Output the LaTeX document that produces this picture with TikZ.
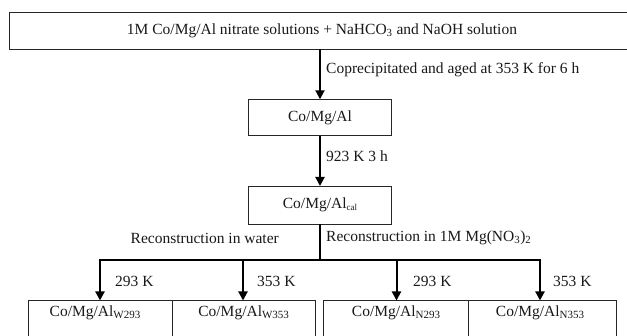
\documentclass[tikz,border=0pt]{standalone}
\usepackage{fontspec}
\setmainfont{Liberation Serif}
\usetikzlibrary{arrows.meta}
\newcommand{\subtxt}[1]{\raisebox{-2pt}{\fontsize{9}{9}\selectfont #1}}
\newcommand{\subbig}[1]{\raisebox{-2pt}{\fontsize{11}{11}\selectfont #1}}
\begin{document}
\begin{tikzpicture}[x=1pt,y=-1pt,
  box/.style={draw=black!85, line width=0.9pt, inner sep=0pt, outer sep=0pt},
  txt/.style={font=\fontsize{15.5}{18}\selectfont, inner sep=0pt, text=black!90},
  flow/.style={line width=2pt, -{Triangle[length=9pt,width=9pt]}},
  bar/.style={line width=2.8pt, line cap=rect}]
\useasboundingbox (0,0) rectangle (627,336);
\clip (0,0) rectangle (627,336);
\fill[white] (0,0) rectangle (627,336);
% boxes
\node[box, minimum width=618.5pt, minimum height=36.5pt] (top) at (318.75,30.75) {};
\node[txt] (toptxt) at (322,31) {1M Co/Mg/Al nitrate solutions + NaHCO\textsubscript{3} and NaOH solution};
\node[box, minimum width=143.4pt, minimum height=36.4pt] (mid) at (320,117.5) {};
\node[txt] (midtxt) at (mid.center) {Co/Mg/Al};
\node[box, minimum width=143.4pt, minimum height=38pt] (cal) at (320,205) {};
\node[txt] (caltxt) at (cal.center) {Co/Mg/Al\subtxt{cal}};
% bottom cells
\node[box, minimum width=144pt, minimum height=49.5pt] (w1) at (100.3,325.25) {};
\node[box, minimum width=142.7pt, minimum height=49.5pt] (w2) at (243.65,325.25) {};
\node[box, minimum width=144.7pt, minimum height=49.5pt] (n1) at (395.65,325.25) {};
\node[box, minimum width=148.7pt, minimum height=49.5pt] (n2) at (542.35,325.25) {};
\node[txt] (w1t) at (95,312.7) {Co/Mg/Al\subbig{W293}};
\node[txt] (w2t) at (243.65,312.7) {Co/Mg/Al\subbig{W353}};
\node[txt] (n1t) at (396,312.7) {Co/Mg/Al\subbig{N293}};
\node[txt] (n2t) at (540,312.7) {Co/Mg/Al\subbig{N353}};
% connectors
\draw[flow] (top.south -| mid.north) -- (mid.north);
\draw[flow] (mid.south) -- (cal.north);
\coordinate (jn) at (320,260);
\coordinate (a1) at (100,260);
\coordinate (a2) at (243,260);
\coordinate (a3) at (396.5,260);
\coordinate (a4) at (540,260);
\draw[line width=2pt] (cal.south) -- (jn);
\draw[bar] (a1) -- (a4);
\draw[flow] (a1) -- (a1 |- w1.north);
\draw[flow] (a2) -- (a2 |- w2.north);
\draw[flow] (a3) -- (a3 |- n1.north);
\draw[flow] (a4) -- (a4 |- n2.north);
% labels
\node[txt, anchor=west] (l1) at (326,70) {Coprecipitated and aged at 353 K for 6 h};
\node[txt, anchor=west] (l2) at (326,156) {923 K 3 h};
\node[txt, anchor=east] (l3) at (279,238) {Reconstruction in water};
\node[txt, anchor=west] (l4) at (326,238) {Reconstruction in 1M Mg(NO\textsubscript{3})\textsubscript{2}};
\node[txt, anchor=west] (k1) at (115,281) {293 K};
\node[txt, anchor=west] (k2) at (257,281) {353 K};
\node[txt, anchor=west] (k3) at (413,281) {293 K};
\node[txt, anchor=west] (k4) at (553,281) {353 K};
\end{tikzpicture}
\end{document}
